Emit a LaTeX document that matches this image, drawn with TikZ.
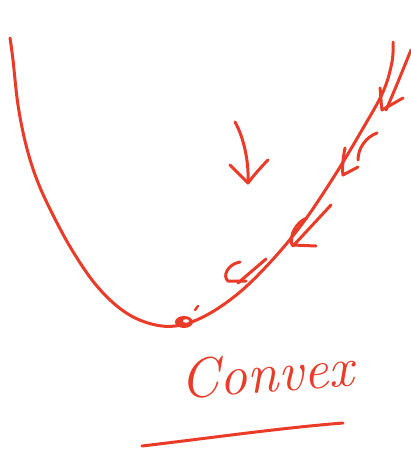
\documentclass[tikz,border=0pt]{standalone}
\usepackage{tikz}
\usetikzlibrary{calc}
\definecolor{sketchRed}{RGB}{234,58,40}

\begin{document}
\begin{tikzpicture}[x=1pt,y=-1pt,
    ink/.style={sketchRed, line width=3pt, line cap=round, line join=round}]
    \useasboundingbox (0,0) rectangle (411,452);

    % convex curve
    \draw[ink] plot[smooth, tension=0.6] coordinates {
        (10,38) (13,60) (18,105) (26,145) (37,180) (52,213) (72,250)
        (96,285) (122,310) (148,323) (175,326) (205,316) (240,292)
        (275,257) (305,220) (335,175) (362,130) (383,92) (392,62) (393,42)};

    % minimum point
    \fill[sketchRed] (184,322) ellipse (9pt and 6pt);
    \fill[white] (186,321) ellipse (3pt and 1.8pt);
    \draw[ink, line width=2.4pt] (195,310) -- (198,306);

    % arrow beside the curve, top
    \draw[ink] (411,50) .. controls (402,72) and (394,92) .. (386,110);
    \draw[ink] (380,88) .. controls (381,96) and (381,104) .. (382,110) -- (403,98);

    % short arrows along the curve
    \draw[ink] (377,133) .. controls (366,137) and (358,148) .. (358,160);
    \draw[ink] (345,148) .. controls (343,158) and (342,168) .. (343,175) -- (358,167);

    \draw[ink] (331,205) -- (293,246);
    \draw[ink] (307,218) .. controls (296,222) and (289,236) .. (292,245) -- (316,246);

    \draw[ink] (266,259) -- (238,283);
    \draw[ink] (240,262) .. controls (228,264) and (222,276) .. (228,281) -- (246,281);

    % falling arrow
    \draw[ink] (235,122) .. controls (244,138) and (249,162) .. (248,183);
    \draw[ink] (230,165) -- (248,183) .. controls (254,175) and (262,166) .. (268,160);

    % label
    \node[text=sketchRed, rotate=4, inner sep=0pt] (label) at (267,373)
        {\fontsize{56}{56}\selectfont\itshape Convex};

    % underline
    \draw[ink] (142,446) .. controls (210,438) and (280,428) .. (343,423);
\end{tikzpicture}
\end{document}
